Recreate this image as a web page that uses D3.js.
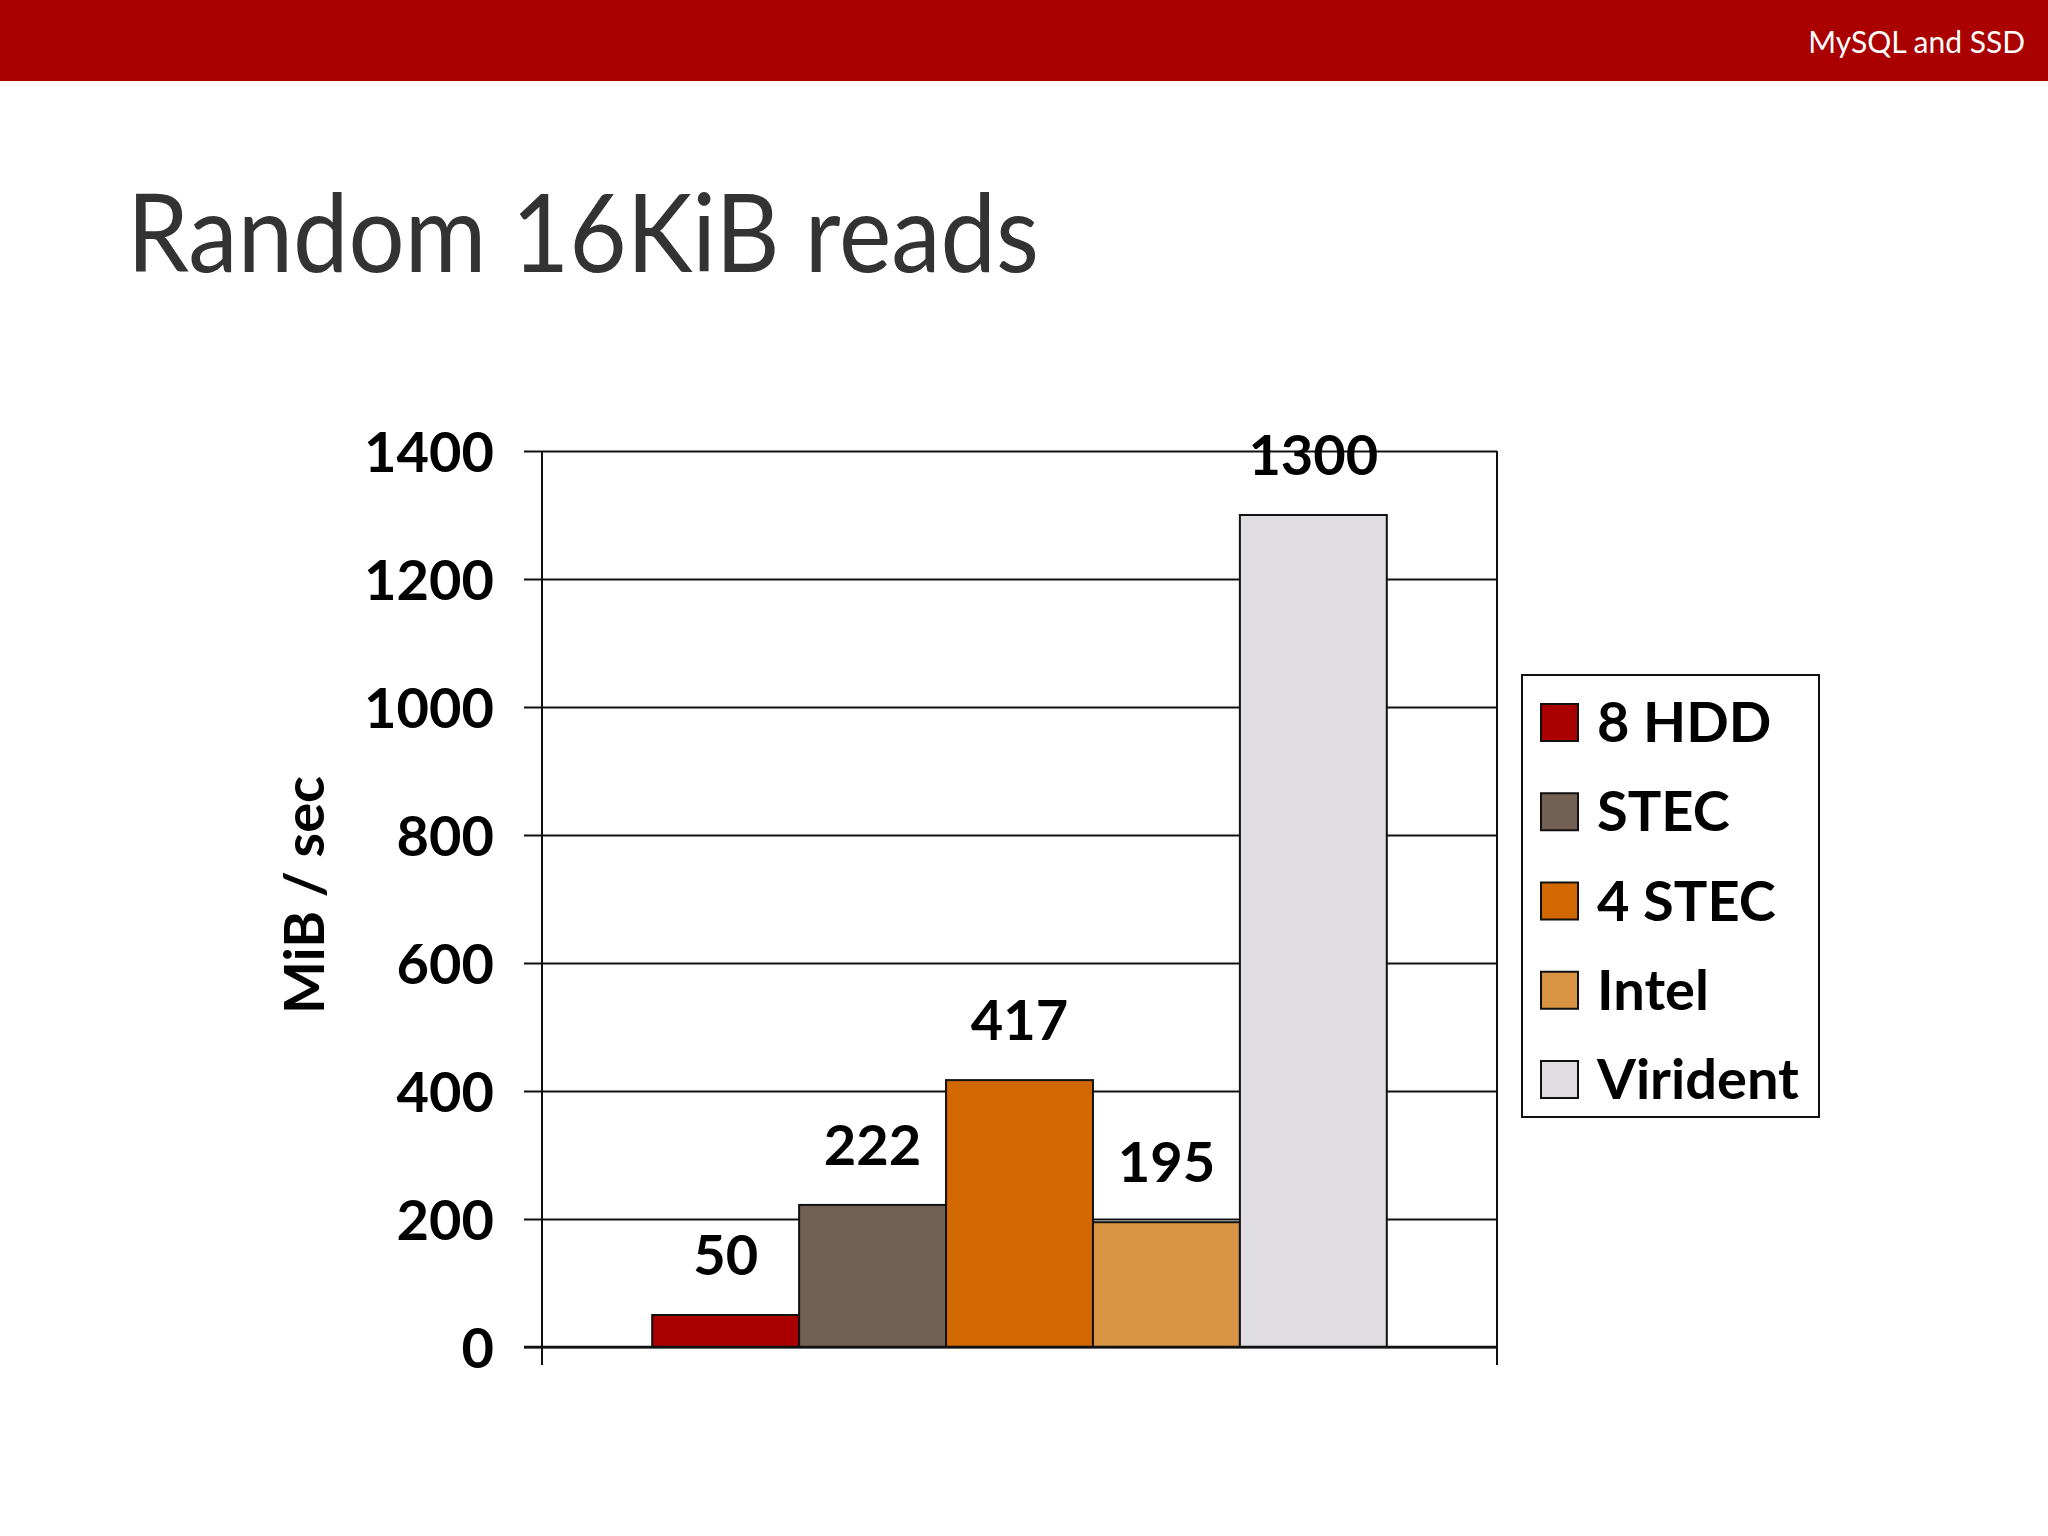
<!DOCTYPE html>
<html><head><meta charset="utf-8">
<script src="https://cdn.jsdelivr.net/npm/d3@7"></script>
<style>html,body{margin:0;padding:0;background:#fff;}svg{display:block;}</style>
</head><body>
<script>
const series = ["8 HDD", "STEC", "4 STEC", "Intel", "Virident"];
const values = [50, 222, 417, 195, 1300];
const colors = ["#AA0000", "#736054", "#D26900", "#D99443", "#DFDDE2"];
const yTicks = [0, 200, 400, 600, 800, 1000, 1200, 1400];
const title = "Random 16KiB reads";
const header = "MySQL and SSD";
const yTitle = "MiB / sec";

(function () {
const W = 2048, H = 1536;
const svg = d3.select("body").append("svg").attr("width", W).attr("height", H);
svg.append("rect").attr("width", W).attr("height", H).attr("fill", "#fff");

// header bar
svg.append("rect").attr("x", 0).attr("y", 0).attr("width", W).attr("height", 81).attr("fill", "#AA0000");
svg.append("text").attr("x", 2025).attr("y", 53).attr("text-anchor", "end")
  .attr("font-family", "Lato, 'Open Sans', sans-serif").attr("font-size", 30).attr("fill", "#fff").text(header);

// title
svg.append("text").attr("x", 127).attr("y", 272)
  .attr("font-family", "Lato, 'Open Sans', sans-serif").attr("font-size", 108).attr("fill", "#333")
  .attr("textLength", 912).attr("lengthAdjust", "spacingAndGlyphs").text(title);

const pl = 542, pr = 1497, pt = 451, pb = 1347;
const y = d3.scaleLinear().domain([0, 1400]).range([pb, pt]);
const x = d3.scaleBand().domain(series).range([pl, pr]).paddingInner(0).paddingOuter(0.75);

const font = "Lato, 'Open Sans', sans-serif";
const tickStart = 524;

// gridlines + ticks via axis
const axis = d3.axisLeft(y).tickValues(yTicks).tickSize(-(pr - tickStart)).tickPadding(30).tickFormat(d3.format("d"));
const gAx = svg.append("g").attr("transform", `translate(${tickStart},0)`).call(axis);
gAx.select(".domain").remove();
gAx.selectAll(".tick line").attr("stroke", "#111").attr("stroke-width", 2);
gAx.selectAll(".tick text").attr("font-family", font).attr("font-weight", 700)
  .attr("font-size", 56).attr("fill", "#000").attr("dy", "0.36em");

// vertical frame lines
[pl, pr].forEach(xx => {
  svg.append("line").attr("x1", xx).attr("x2", xx).attr("y1", pt).attr("y2", pb + 18)
    .attr("stroke", "#111").attr("stroke-width", 2);
});

// bars
svg.append("g").selectAll("rect").data(series).join("rect")
  .attr("x", d => x(d)).attr("width", x.bandwidth())
  .attr("y", (d, i) => y(values[i])).attr("height", (d, i) => y(0) - y(values[i]))
  .attr("fill", (d, i) => colors[i]).attr("stroke", "#111").attr("stroke-width", 2);

// x axis line on top
svg.append("line").attr("x1", tickStart).attr("x2", pr).attr("y1", y(0)).attr("y2", y(0))
  .attr("stroke", "#111").attr("stroke-width", 2.5);

// value labels
svg.append("g").selectAll("text").data(series).join("text")
  .attr("x", d => x(d) + x.bandwidth() / 2).attr("y", (d, i) => y(values[i]) - 40)
  .attr("text-anchor", "middle").attr("font-family", font).attr("font-weight", 700)
  .attr("font-size", 56).attr("fill", "#000").text((d, i) => values[i]);

// y title
svg.append("text").attr("transform", "translate(324,895) rotate(-90)").attr("text-anchor", "middle")
  .attr("font-family", font).attr("font-weight", 700).attr("font-size", 56).attr("fill", "#000").text(yTitle);

// legend
const lg = svg.append("g");
lg.append("rect").attr("x", 1522).attr("y", 675).attr("width", 297).attr("height", 442)
  .attr("fill", "#fff").attr("stroke", "#111").attr("stroke-width", 2);
const rowY = d3.scalePoint().domain(series).range([722, 1079]);
const items = lg.selectAll("g.item").data(series).join("g").attr("class", "item")
  .attr("transform", d => `translate(1541,${rowY(d)})`);
items.append("rect").attr("x", 0).attr("y", -18).attr("width", 37).attr("height", 37)
  .attr("fill", (d, i) => colors[i]).attr("stroke", "#111").attr("stroke-width", 2);
items.append("text").attr("x", 56).attr("y", 0).attr("dy", "0.36em")
  .attr("font-family", font).attr("font-weight", 700).attr("font-size", 56).attr("fill", "#000").text(d => d);
})();
</script>
</body></html>
